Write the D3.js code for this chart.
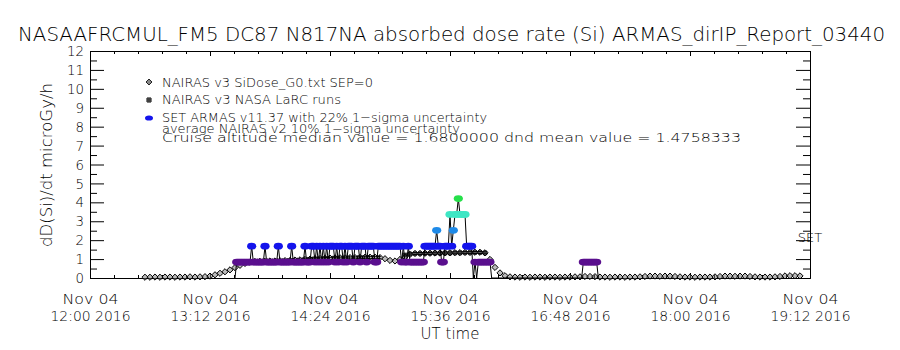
<!DOCTYPE html>
<html>
<head>
<meta charset="utf-8">
<script src="https://cdn.jsdelivr.net/npm/d3@7"></script>
<style>
  html, body { margin: 0; padding: 0; background: #ffffff; }
  svg { display: block; }
  text { font-family: "DejaVu Sans", "Liberation Sans", Arial, sans-serif; font-weight: 200; fill: #000; }
</style>
</head>
<body>
<svg id="chart" width="900" height="350"></svg>
<script>
// ---- Text ----
const titleText = "NASAAFRCMUL_FM5 DC87 N817NA absorbed dose rate (Si) ARMAS_dirIP_Report_03440";
const yAxisTitle = "dD(Si)/dt microGy/h";
const xAxisTitle = "UT time";
const flightDate = "2016-11-04";
const xTickDate = "Nov 04";
const xTickYear = "2016";
const xDomain = ["12:00", "19:12"];
const xTickTimes = ["12:00", "13:12", "14:24", "15:36", "16:48", "18:00", "19:12"];
const yTicks = [0, 1, 2, 3, 4, 5, 6, 7, 8, 9, 10, 11, 12];
const legendLabels = [
  "NAIRAS v3 SiDose_G0.txt SEP=0",
  "NAIRAS v3 NASA LaRC runs",
  "SET ARMAS v11.37 with 22% 1\u2212sigma uncertainty"
];
const noteLines = [
  "average NAIRAS v2 10% 1\u2212sigma uncertainty",
  "Cruise altitude median value = 1.6800000 dnd mean value = 1.4758333"
];
const instrumentTag = "SET";

// ---- NAIRAS v3 SiDose_G0 (SEP=0) ----
const siDoseTimes = [
  "12:33","12:36","12:39","12:42","12:45","12:48","12:51","12:54","12:57",
  "13:00","13:03","13:06","13:09","13:12","13:15","13:18","13:21","13:24","13:27",
  "13:30","13:33","13:36","13:39","13:42","13:45","13:48","13:51","13:54","13:57",
  "14:00","14:03","14:06","14:09","14:12","14:15","14:18","14:21","14:24","14:27",
  "14:30","14:33","14:36","14:39","14:42","14:45","14:48","14:51","14:54","14:57",
  "15:00","15:03","15:06","15:09","15:12","15:15","15:18","15:21","15:24","15:27",
  "15:30","15:33","15:36","15:39","15:42","15:45","15:48","15:51","15:54","15:57",
  "16:00","16:03","16:06","16:09","16:12","16:15","16:18","16:21","16:24","16:27",
  "16:30","16:33","16:36","16:39","16:42","16:45","16:48","16:51","16:54","16:57",
  "17:00","17:03","17:06","17:09","17:12","17:15","17:18","17:21","17:24","17:27",
  "17:30","17:33","17:36","17:39","17:42","17:45","17:48","17:51","17:54","17:57",
  "18:00","18:03","18:06","18:09","18:12","18:15","18:18","18:21","18:24","18:27",
  "18:30","18:33","18:36","18:39","18:42","18:45","18:48","18:51","18:54","18:57",
  "19:00","19:03","19:06"
];
const siDoseValues = [
  0.04,0.04,0.05,0.04,0.05,0.05,0.04,0.05,0.05,0.06,0.05,0.06,0.07,
  0.10,0.17,0.25,0.33,0.43,0.55,0.67,0.77,0.84,0.87,
  0.88,0.88,0.90,0.90,0.91,0.92,0.93,0.95,0.96,0.98,
  1.00,1.02,1.03,1.04,1.05,1.06,1.07,1.07,1.08,1.08,
  1.09,1.10,1.10,1.10,1.08,1.02,0.93,0.90,0.98,1.12,
  1.25,1.30,1.30,1.31,1.31,1.32,1.32,1.33,1.33,1.34,
  1.34,1.35,1.35,1.36,1.36,1.33,0.98,0.56,0.27,0.12,
  0.06,0.05,0.04,0.05,0.04,0.05,0.05,0.04,0.05,0.05,
  0.04,0.05,0.05,0.06,0.06,0.08,0.08,0.07,0.05,0.05,
  0.04,0.05,0.05,0.04,0.05,0.05,0.06,0.08,0.10,0.10,
  0.09,0.10,0.10,0.08,0.06,0.05,0.05,0.04,0.05,0.05,
  0.05,0.06,0.08,0.10,0.10,0.09,0.10,0.10,0.08,0.06,
  0.05,0.05,0.05,0.06,0.08,0.11,0.12,0.12,0.11
];

// ---- NAIRAS v3 NASA LaRC runs ----
const larcTimes = [
  "13:38","13:41","13:44","13:47","13:50","13:53","13:56","13:59","14:02","14:05",
  "14:08","14:11","14:14","14:17","14:20","14:23","14:26","14:29","14:32","14:35",
  "14:38","14:41","14:44","14:47","14:50","14:53",
  "15:09","15:12","15:15","15:18","15:21","15:24","15:27","15:30","15:33","15:36",
  "15:39","15:42","15:45","15:48","15:51","15:54","15:57"
];
const larcValues = [
  0.88,0.89,0.89,0.90,0.90,0.91,0.91,0.92,0.93,0.94,
  0.96,0.98,1.00,1.01,1.02,1.03,1.04,1.05,1.05,1.06,
  1.06,1.07,1.07,1.08,1.08,1.08,
  1.22,1.27,1.29,1.29,1.30,1.30,1.31,1.31,1.32,1.32,
  1.33,1.33,1.34,1.34,1.35,1.35,1.33
];

// ---- SET ARMAS v11.37 (1-minute records) ----
const armasTimes = [
  "13:27","13:28","13:29","13:30","13:31","13:32","13:33","13:34","13:35","13:36",
  "13:37","13:38","13:39","13:40","13:41","13:42","13:43","13:44","13:45","13:46",
  "13:47","13:48","13:49","13:50","13:51","13:52","13:53","13:54","13:55","13:56",
  "13:57","13:58","13:59","14:00","14:01","14:02","14:03","14:04","14:05","14:06",
  "14:07","14:08","14:09","14:10","14:11","14:12","14:13","14:14","14:15","14:16",
  "14:17","14:18","14:19","14:20","14:21","14:22","14:23","14:24","14:25","14:26",
  "14:27","14:28","14:29","14:30","14:31","14:32","14:33","14:34","14:35","14:36",
  "14:37","14:38","14:39","14:40","14:41","14:42","14:43","14:44","14:45","14:46",
  "14:47","14:48","14:49","14:50","14:51","14:52","14:53","14:54","14:55","14:56",
  "14:57","14:58","14:59","15:00","15:01","15:02","15:03","15:04","15:05","15:06",
  "15:07","15:08","15:09","15:10","15:11","15:12","15:13","15:14","15:15","15:16",
  "15:17","15:18","15:19","15:20","15:21","15:22","15:23","15:24","15:25","15:26",
  "15:27","15:28","15:29","15:30","15:31","15:32","15:33","15:34","15:35","15:36",
  "15:37","15:38","15:39","15:40","15:41","15:42","15:43","15:44","15:45","15:46",
  "15:47","15:48","15:49","15:50","15:51","15:52","15:53","15:54","15:55","15:56",
  "15:57","15:58","15:59","16:00","16:01",
  "16:55","16:56","16:57","16:58","16:59","17:00","17:01","17:02","17:03","17:04","17:05"
];
const armasValues = [
  0,0.84,0.84,0.84,0.84,0.84,0.84,0.84,0.84,0.84,
  1.68,0.84,0.84,0.84,0.84,0.84,0.84,0.84,1.68,0.84,
  0.84,0.84,0.84,0.84,0.84,0.84,1.68,0.84,0.84,0.84,
  0.84,0.84,0.84,0.84,1.68,0.84,0.84,0.84,0.84,0.84,
  0.84,0.84,1.68,0.84,0.84,0.84,1.68,1.68,0.84,1.68,
  0.84,1.68,0.84,1.68,0.84,1.68,0.84,1.68,1.68,1.68,
  0.84,1.68,0.84,1.68,1.68,0.84,1.68,0.84,1.68,1.68,
  1.68,0.84,1.68,1.68,1.68,0.84,1.68,1.68,1.68,0.84,
  1.68,1.68,1.68,1.68,0.84,0.84,1.68,1.68,1.68,1.68,
  1.68,1.68,1.68,1.68,1.68,1.68,1.68,1.68,1.68,1.68,
  0.84,1.68,0.84,0.84,1.68,0.84,0.84,0.84,0.84,0.84,
  0.84,0.84,0.84,0.84,1.68,1.68,1.68,1.68,1.68,1.68,
  1.68,2.52,1.68,1.68,0.84,0.84,1.68,1.68,1.68,3.36,
  1.68,2.52,3.36,3.36,4.2,3.36,3.36,3.36,3.36,1.68,
  1.68,1.68,1.68,0,0.84,0,0.84,0.84,0.84,0.84,
  0.84,0.84,0.84,0.84,0,
  0,0.84,0.84,0.84,0.84,0.84,0.84,0.84,0.84,0.84,0
];
const armasLevels = [0, 0.84, 1.68, 2.52, 3.36, 4.2];
const armasColors = ["none", "#5a0f8e", "#1414ec", "#1e8ae8", "#3ee6c4", "#26e04a"];

// ---- Layout ----
const svg = d3.select("#chart");
const W = 900, H = 350;
const plot = { left: 90, right: 810, top: 51, bottom: 278 };

const parseTime = d3.timeParse("%Y-%m-%d %H:%M");
const toDate = t => parseTime(flightDate + " " + t);

const x = d3.scaleTime()
  .domain(xDomain.map(toDate))
  .range([plot.left, plot.right]);
const y = d3.scaleLinear().domain([0, 12]).range([plot.bottom, plot.top]);

svg.append("rect").attr("width", W).attr("height", H).attr("fill", "#fff");

// ---- Axes ----
const tickFont = 14.5;
const majorX = xTickTimes.map(toDate);
const minorX = d3.range(0, 5 * (majorX.length - 1) + 1)
  .map(i => new Date(+majorX[0] + i * (+majorX[1] - +majorX[0]) / 5));
const halfY = d3.range(0.5, 12, 1);

function styleAxis(g) {
  g.selectAll("path.domain").attr("stroke", "#000").attr("stroke-width", 1);
  g.selectAll(".tick line").attr("stroke", "#000").attr("stroke-width", 1);
  g.selectAll("text").style("font-size", tickFont + "px")
    .attr("font-family", null).attr("fill", "#000");
}

// left
svg.append("g").attr("transform", `translate(${plot.left},0)`)
  .call(d3.axisLeft(y).tickValues(yTicks).tickSizeInner(-14).tickSizeOuter(0).tickPadding(6).tickFormat(d3.format("d")))
  .call(styleAxis)
  .call(g => g.selectAll("text").attr("textLength", d => d >= 10 ? 17 : 8.5).attr("lengthAdjust", "spacingAndGlyphs"));
svg.append("g").attr("transform", `translate(${plot.left},0)`)
  .call(d3.axisLeft(y).tickValues(halfY).tickSizeInner(-7).tickSizeOuter(0).tickFormat(""))
  .call(styleAxis);

// right
svg.append("g").attr("transform", `translate(${plot.right},0)`)
  .call(d3.axisRight(y).tickValues(yTicks).tickSizeInner(-14).tickSizeOuter(0).tickFormat(""))
  .call(styleAxis);
svg.append("g").attr("transform", `translate(${plot.right},0)`)
  .call(d3.axisRight(y).tickValues(halfY).tickSizeInner(-7).tickSizeOuter(0).tickFormat(""))
  .call(styleAxis);

// top
svg.append("g").attr("transform", `translate(0,${plot.top})`)
  .call(d3.axisTop(x).tickValues(majorX).tickSizeInner(-5).tickSizeOuter(0).tickFormat(""))
  .call(styleAxis);
svg.append("g").attr("transform", `translate(0,${plot.top})`)
  .call(d3.axisTop(x).tickValues(minorX).tickSizeInner(-3).tickSizeOuter(0).tickFormat(""))
  .call(styleAxis);

// bottom with two-line date labels
const fmtHM = d3.timeFormat("%H:%M");
svg.append("g").attr("transform", `translate(0,${plot.bottom})`)
  .call(d3.axisBottom(x).tickValues(minorX).tickSizeInner(-3).tickSizeOuter(0).tickFormat(""))
  .call(styleAxis);
svg.append("g").attr("transform", `translate(0,${plot.bottom})`)
  .call(d3.axisBottom(x).tickValues(majorX).tickSizeInner(-5).tickSizeOuter(0).tickFormat(fmtHM))
  .call(styleAxis)
  .call(g => g.selectAll(".tick text").each(function(d) {
    const t = d3.select(this);
    t.text(null).attr("y", 0).attr("dy", null).attr("text-anchor", "middle");
    t.append("tspan").attr("x", 0).attr("y", 26)
      .attr("textLength", 56).attr("lengthAdjust", "spacingAndGlyphs").text(xTickDate);
    t.append("tspan").attr("x", 0).attr("y", 43)
      .attr("textLength", 80).attr("lengthAdjust", "spacingAndGlyphs").text(fmtHM(d) + " " + xTickYear);
  }));

// ---- Titles ----
svg.append("text")
  .attr("x", 18).attr("y", 41)
  .attr("textLength", 867).attr("lengthAdjust", "spacingAndGlyphs")
  .style("font-size", "20px")
  .text(titleText);

svg.append("text")
  .attr("transform", `translate(52,165) rotate(-90)`)
  .attr("text-anchor", "middle")
  .attr("textLength", 164).attr("lengthAdjust", "spacingAndGlyphs")
  .style("font-size", "16px")
  .text(yAxisTitle);

svg.append("text")
  .attr("x", (plot.left + plot.right) / 2).attr("y", 339)
  .attr("text-anchor", "middle")
  .style("font-size", "15px")
  .text(xAxisTitle);

// ---- Marker shapes ----
const diamondPath = (cx, cy, s) => `M${cx},${cy - s}L${cx + s},${cy}L${cx},${cy + s}L${cx - s},${cy}Z`;
const hashPath = (cx, cy, s) =>
  `M${cx - 1},${cy - s}V${cy + s}M${cx + 1},${cy - s}V${cy + s}` +
  `M${cx - s},${cy - 1}H${cx + s}M${cx - s},${cy + 1}H${cx + s}`;

const siDose = siDoseTimes.map((t, i) => ({ t: toDate(t), v: siDoseValues[i] }));
const larc = larcTimes.map((t, i) => ({ t: toDate(t), v: larcValues[i] }));
const armas = armasTimes.map((t, i) => ({ t: toDate(t), v: armasValues[i] }));

const data = svg.append("g");

// NAIRAS SiDose diamonds
data.append("g").selectAll("path").data(siDose).join("path")
  .attr("d", d => diamondPath(x(d.t), y(d.v), 3.1))
  .attr("fill", "#777").attr("fill-opacity", 0.5)
  .attr("stroke", "#000").attr("stroke-width", 1);

// NAIRAS LaRC hash marks
data.append("g").selectAll("path").data(larc).join("path")
  .attr("d", d => hashPath(x(d.t), y(d.v), 2.5))
  .attr("fill", "none").attr("stroke", "#000").attr("stroke-width", 1);

// ARMAS connecting line
const armasColor = d3.scaleOrdinal().domain(armasLevels).range(armasColors);
data.append("path")
  .datum(armas)
  .attr("d", d3.line().x(d => x(d.t)).y(d => y(d.v)))
  .attr("fill", "none").attr("stroke", "#000").attr("stroke-width", 1);

// ARMAS markers, coloured by dose level
data.append("g").selectAll("ellipse").data(armas.filter(d => d.v > 0)).join("ellipse")
  .attr("cx", d => x(d.t)).attr("cy", d => y(d.v))
  .attr("rx", 4.6).attr("ry", 3.4)
  .attr("fill", d => armasColor(d.v));

// instrument tag at the right edge
svg.append("text")
  .attr("x", plot.right).attr("y", y(1.9))
  .attr("text-anchor", "middle")
  .style("font-size", "13px")
  .text(instrumentTag);

// ---- Legend ----
const legX = 149, txtX = 162;
const legBase = [87, 104, 122];
const legWidths = [211, 179, 325];
const leg = svg.append("g");
leg.append("path").attr("d", diamondPath(legX, 82, 3)).attr("fill", "#888").attr("stroke", "#111").attr("stroke-width", 0.9);
leg.append("path").attr("d", hashPath(legX, 100, 3)).attr("fill", "none").attr("stroke", "#000").attr("stroke-width", 1);
leg.append("ellipse").attr("cx", legX).attr("cy", 118).attr("rx", 4).attr("ry", 2.6).attr("fill", armasColor(1.68));
legendLabels.forEach((s, i) => {
  leg.append("text").attr("x", txtX).attr("y", legBase[i])
    .attr("textLength", legWidths[i]).attr("lengthAdjust", "spacingAndGlyphs")
    .style("font-size", "13px").text(s);
});
const noteBase = [133, 142];
const noteWidths = [298, 579];
noteLines.forEach((s, i) => {
  leg.append("text").attr("x", txtX).attr("y", noteBase[i])
    .attr("textLength", noteWidths[i]).attr("lengthAdjust", "spacingAndGlyphs")
    .style("font-size", i === 0 ? "12.5px" : "13px").text(s);
});
</script>
</body>
</html>
